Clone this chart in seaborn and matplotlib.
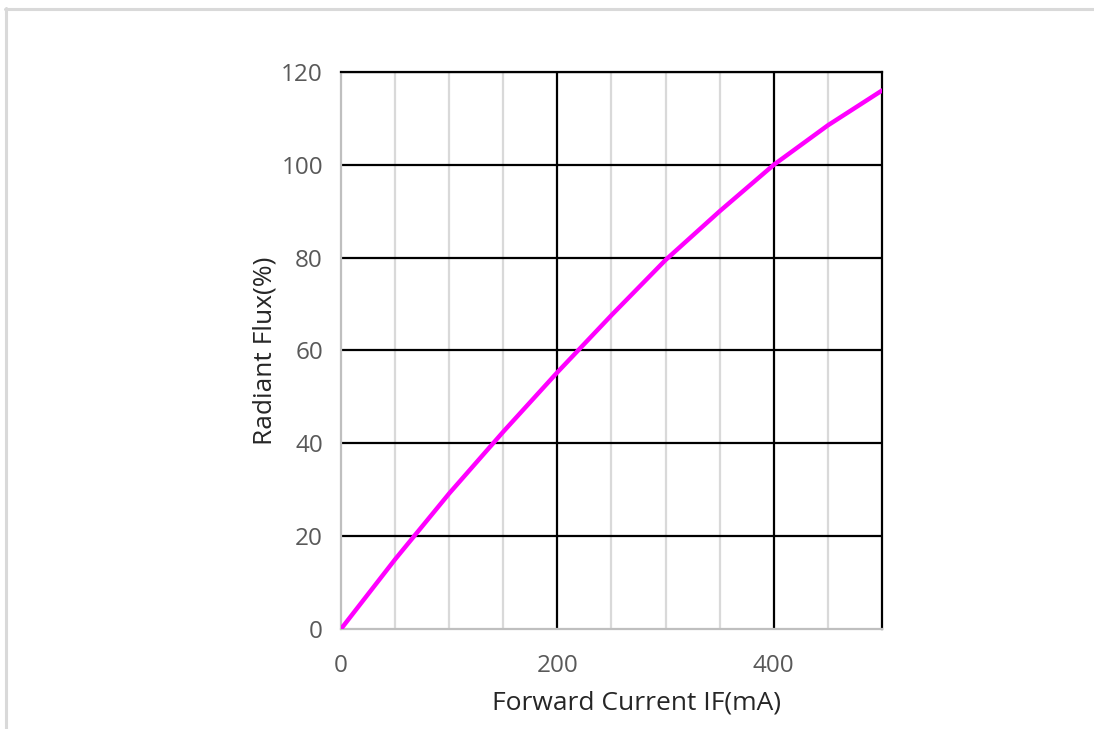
import numpy as np
import pandas as pd
import seaborn as sns
import matplotlib.pyplot as plt
from matplotlib.lines import Line2D

# Данные кривой
current_ma = [0, 50, 100, 150, 200, 250, 300, 350, 400, 450, 500]
radiant_flux = [0, 15, 29.2, 42.5, 55.3, 67.6, 79.5, 90, 100, 108.5, 116]

x_ticks = [0, 200, 400]
y_ticks = [0, 20, 40, 60, 80, 100, 120]
major_x = [200, 400]
minor_x = [50, 100, 150, 250, 300, 350, 450]

df = pd.DataFrame({'IF': current_ma, 'flux': radiant_flux})

sns.set_style('white')
plt.rcParams['font.family'] = ['Open Sans', 'DejaVu Sans']

fig = plt.figure(figsize=(10.94, 7.29), dpi=100)
ax = fig.add_axes([0.3117, 0.1372, 0.4945, 0.7641])

# сетка
for x in minor_x:
    ax.axvline(x, color='#d9d9d9', lw=1.6, zorder=1)
for x in major_x:
    ax.axvline(x, color='black', lw=1.6, zorder=2)
for y in y_ticks[1:]:
    ax.axhline(y, color='black', lw=1.6, zorder=2)

sns.lineplot(data=df, x='IF', y='flux', color='#ff00ff', lw=3.2, ax=ax, zorder=5)

ax.set_xlim(0, 500)
ax.set_ylim(0, 120)
ax.set_xticks(x_ticks)
ax.set_yticks(y_ticks)
ax.tick_params(axis='x', colors='#595959', labelsize=17.5, length=7, width=1.2, direction='out', pad=11)
ax.tick_params(axis='y', colors='#595959', labelsize=17.5, length=0, pad=13)
for s in ['left', 'bottom']:
    ax.spines[s].set_color('#bfbfbf')
    ax.spines[s].set_linewidth(1.6)
for s in ['top', 'right']:
    ax.spines[s].set_color('black')
    ax.spines[s].set_linewidth(1.6)

ax.set_xlabel('Forward Current IF(mA)', fontsize=19, color='#262626', labelpad=9)
ax.xaxis.label.set_x(0.547)
ax.set_ylabel('Radiant Flux(%)', fontsize=19, color='#262626', labelpad=3)

# рамка вокруг картинки (сверху и слева)
fig.lines.append(Line2D([5 / 1094, 1], [1 - 9 / 729, 1 - 9 / 729],
                        transform=fig.transFigure, color='#d9d9d9', lw=2.2))
fig.lines.append(Line2D([6 / 1094, 6 / 1094], [0, 1 - 8 / 729],
                        transform=fig.transFigure, color='#d9d9d9', lw=2.2))

fig.savefig('out.png', dpi=100)
